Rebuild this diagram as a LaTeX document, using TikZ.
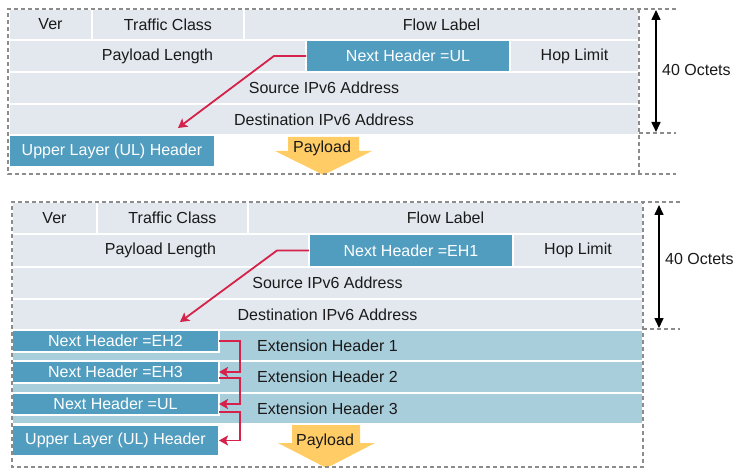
\documentclass[tikz,border=0pt]{standalone}
\usepackage{fontspec}
\setmainfont{Liberation Sans}
\usetikzlibrary{arrows.meta,positioning}
\definecolor{rowgray}{HTML}{E2E8EE}
\definecolor{nhblue}{HTML}{519DBF}
\definecolor{ehblue}{HTML}{A8CDDB}
\definecolor{nhred}{HTML}{D6214A}
\definecolor{payyellow}{HTML}{FFCC66}
\definecolor{framegray}{HTML}{8C8C8C}
\definecolor{txt}{HTML}{1A1A1A}
\begin{document}
\begin{tikzpicture}[x=1pt,y=-1pt,
  font=\fontsize{16}{19}\selectfont,
  cell/.style={draw=white,line width=2pt,fill=rowgray,text=txt,inner sep=0pt,outer sep=0pt},
  nhbox/.style={cell,fill=nhblue,text=white},
  ehrow/.style={cell,fill=ehblue},
  frame/.style={draw=framegray,line width=1.3pt,dash pattern=on 4pt off 3pt},
  redarr/.style={draw=nhred,line width=1.8pt,-{Stealth[length=9pt,width=10pt,inset=2pt]}},
  octarr/.style={draw=black,line width=1.6pt,{Triangle[length=10pt,width=9pt]}-{Triangle[length=10pt,width=9pt]}},
  pay/.style={fill=payyellow}]
\useasboundingbox (0,0) rectangle (742,473);

\node[cell,minimum width=83pt,minimum height=31pt,anchor=north west] (ver1) at (9,9) {Ver};
\node[cell,minimum width=152pt,minimum height=31pt,right=0pt of ver1] (tc1) {Traffic Class};
\node[cell,minimum width=395pt,minimum height=31pt,right=0pt of tc1] (fl1) {Flow Label};
\node[cell,minimum width=297pt,minimum height=32pt,anchor=north west] (pl1) at (9,40) {Payload Length};
\node[nhbox,minimum width=204pt,minimum height=32pt,right=0pt of pl1] (nh1) {Next Header =UL};
\node[cell,minimum width=129pt,minimum height=32pt,right=0pt of nh1] (hop1) {Hop Limit};
\node[cell,minimum width=630pt,minimum height=32pt,anchor=north west] (src1) at (9,72) {Source IPv6 Address};
\node[cell,minimum width=630pt,minimum height=31pt,below=0pt of src1] (dst1) {Destination IPv6 Address};
\node[nhbox,minimum width=206pt,minimum height=32pt,anchor=north west] (ul1) at (9,135) {Upper Layer (UL) Header};

\fill[pay] (288,137) -- (359,137) -- (359,151) -- (372,151) -- (323.5,175) -- (275,151) -- (288,151) -- cycle;
\node[text=txt] (pay1) at (322,148) {Payload};

\coordinate (tip1) at (178,128);
\draw[redarr] (nh1.west) -- ++(-32,0) -- (tip1);

\coordinate (oct1t) at (656,10);
\coordinate (oct1b) at (656,132);
\draw[octarr] (oct1t) -- (oct1b);
\node[anchor=west,inner sep=0pt,text=txt] (oct1) at (662,70) {40 Octets};

\draw[frame] (676,9) -- (8,9) -- (8,174) -- (676,174);
\draw[frame] (639,9) -- (639,174);
\draw[frame] (639,133) -- (676,133);

\node[cell,minimum width=85pt,minimum height=32pt,anchor=north west] (ver2) at (12,202) {Ver};
\node[cell,minimum width=151pt,minimum height=32pt,right=0pt of ver2] (tc2) {Traffic Class};
\node[cell,minimum width=395pt,minimum height=32pt,right=0pt of tc2] (fl2) {Flow Label};
\node[cell,minimum width=297pt,minimum height=33pt,anchor=north west] (pl2) at (12,234) {Payload Length};
\node[nhbox,minimum width=204pt,minimum height=33pt,right=0pt of pl2] (nh2) {Next Header =EH1};
\node[cell,minimum width=130pt,minimum height=33pt,right=0pt of nh2] (hop2) {Hop Limit};
\node[cell,minimum width=631pt,minimum height=32pt,anchor=north west] (src2) at (12,267) {Source IPv6 Address};
\node[cell,minimum width=631pt,minimum height=31pt,below=0pt of src2] (dst2) {Destination IPv6 Address};
\node[ehrow,minimum width=631pt,minimum height=31pt,below=0pt of dst2] (eh1) {Extension Header 1};
\node[ehrow,minimum width=631pt,minimum height=32pt,below=0pt of eh1] (eh2) {Extension Header 2};
\node[ehrow,minimum width=631pt,minimum height=31pt,below=0pt of eh2] (eh3) {Extension Header 3};

\node[nhbox,minimum width=207pt,minimum height=22pt,anchor=north west] (nheh2) at (12,330) {Next Header =EH2};
\node[nhbox,minimum width=207pt,minimum height=22pt,anchor=north west] (nheh3) at (12,361) {Next Header =EH3};
\node[nhbox,minimum width=207pt,minimum height=22pt,anchor=north west] (nhul2) at (12,393) {Next Header =UL};
\node[nhbox,minimum width=207pt,minimum height=31pt,anchor=north west] (ul2) at (12,425) {Upper Layer (UL) Header};

\fill[pay] (292,425) -- (360,425) -- (360,443) -- (375,443) -- (326.5,468) -- (278,443) -- (292,443) -- cycle;
\node[text=txt] (pay2) at (325,441) {Payload};

\coordinate (tip2) at (180,322);
\draw[redarr] (nh2.west) -- ++(-32,0) -- (tip2);
\draw[redarr] (nheh2.east) -- ++(21,0) |- (nheh3.east);
\draw[redarr] ([yshift=-6pt]nheh3.east) -- ++(21,0) |- (nhul2.east);
\draw[redarr] ([yshift=-8pt]nhul2.east) -- ++(21,0) |- (ul2.east);

\coordinate (oct2t) at (659,205);
\coordinate (oct2b) at (659,328);
\draw[octarr] (oct2t) -- (oct2b);
\node[anchor=west,inner sep=0pt,text=txt] (oct2) at (665,259) {40 Octets};

\draw[frame] (680,202) -- (12,202) -- (12,467) -- (643,467) -- (643,202);
\draw[frame] (643,329) -- (680,329);
\end{tikzpicture}
\end{document}
